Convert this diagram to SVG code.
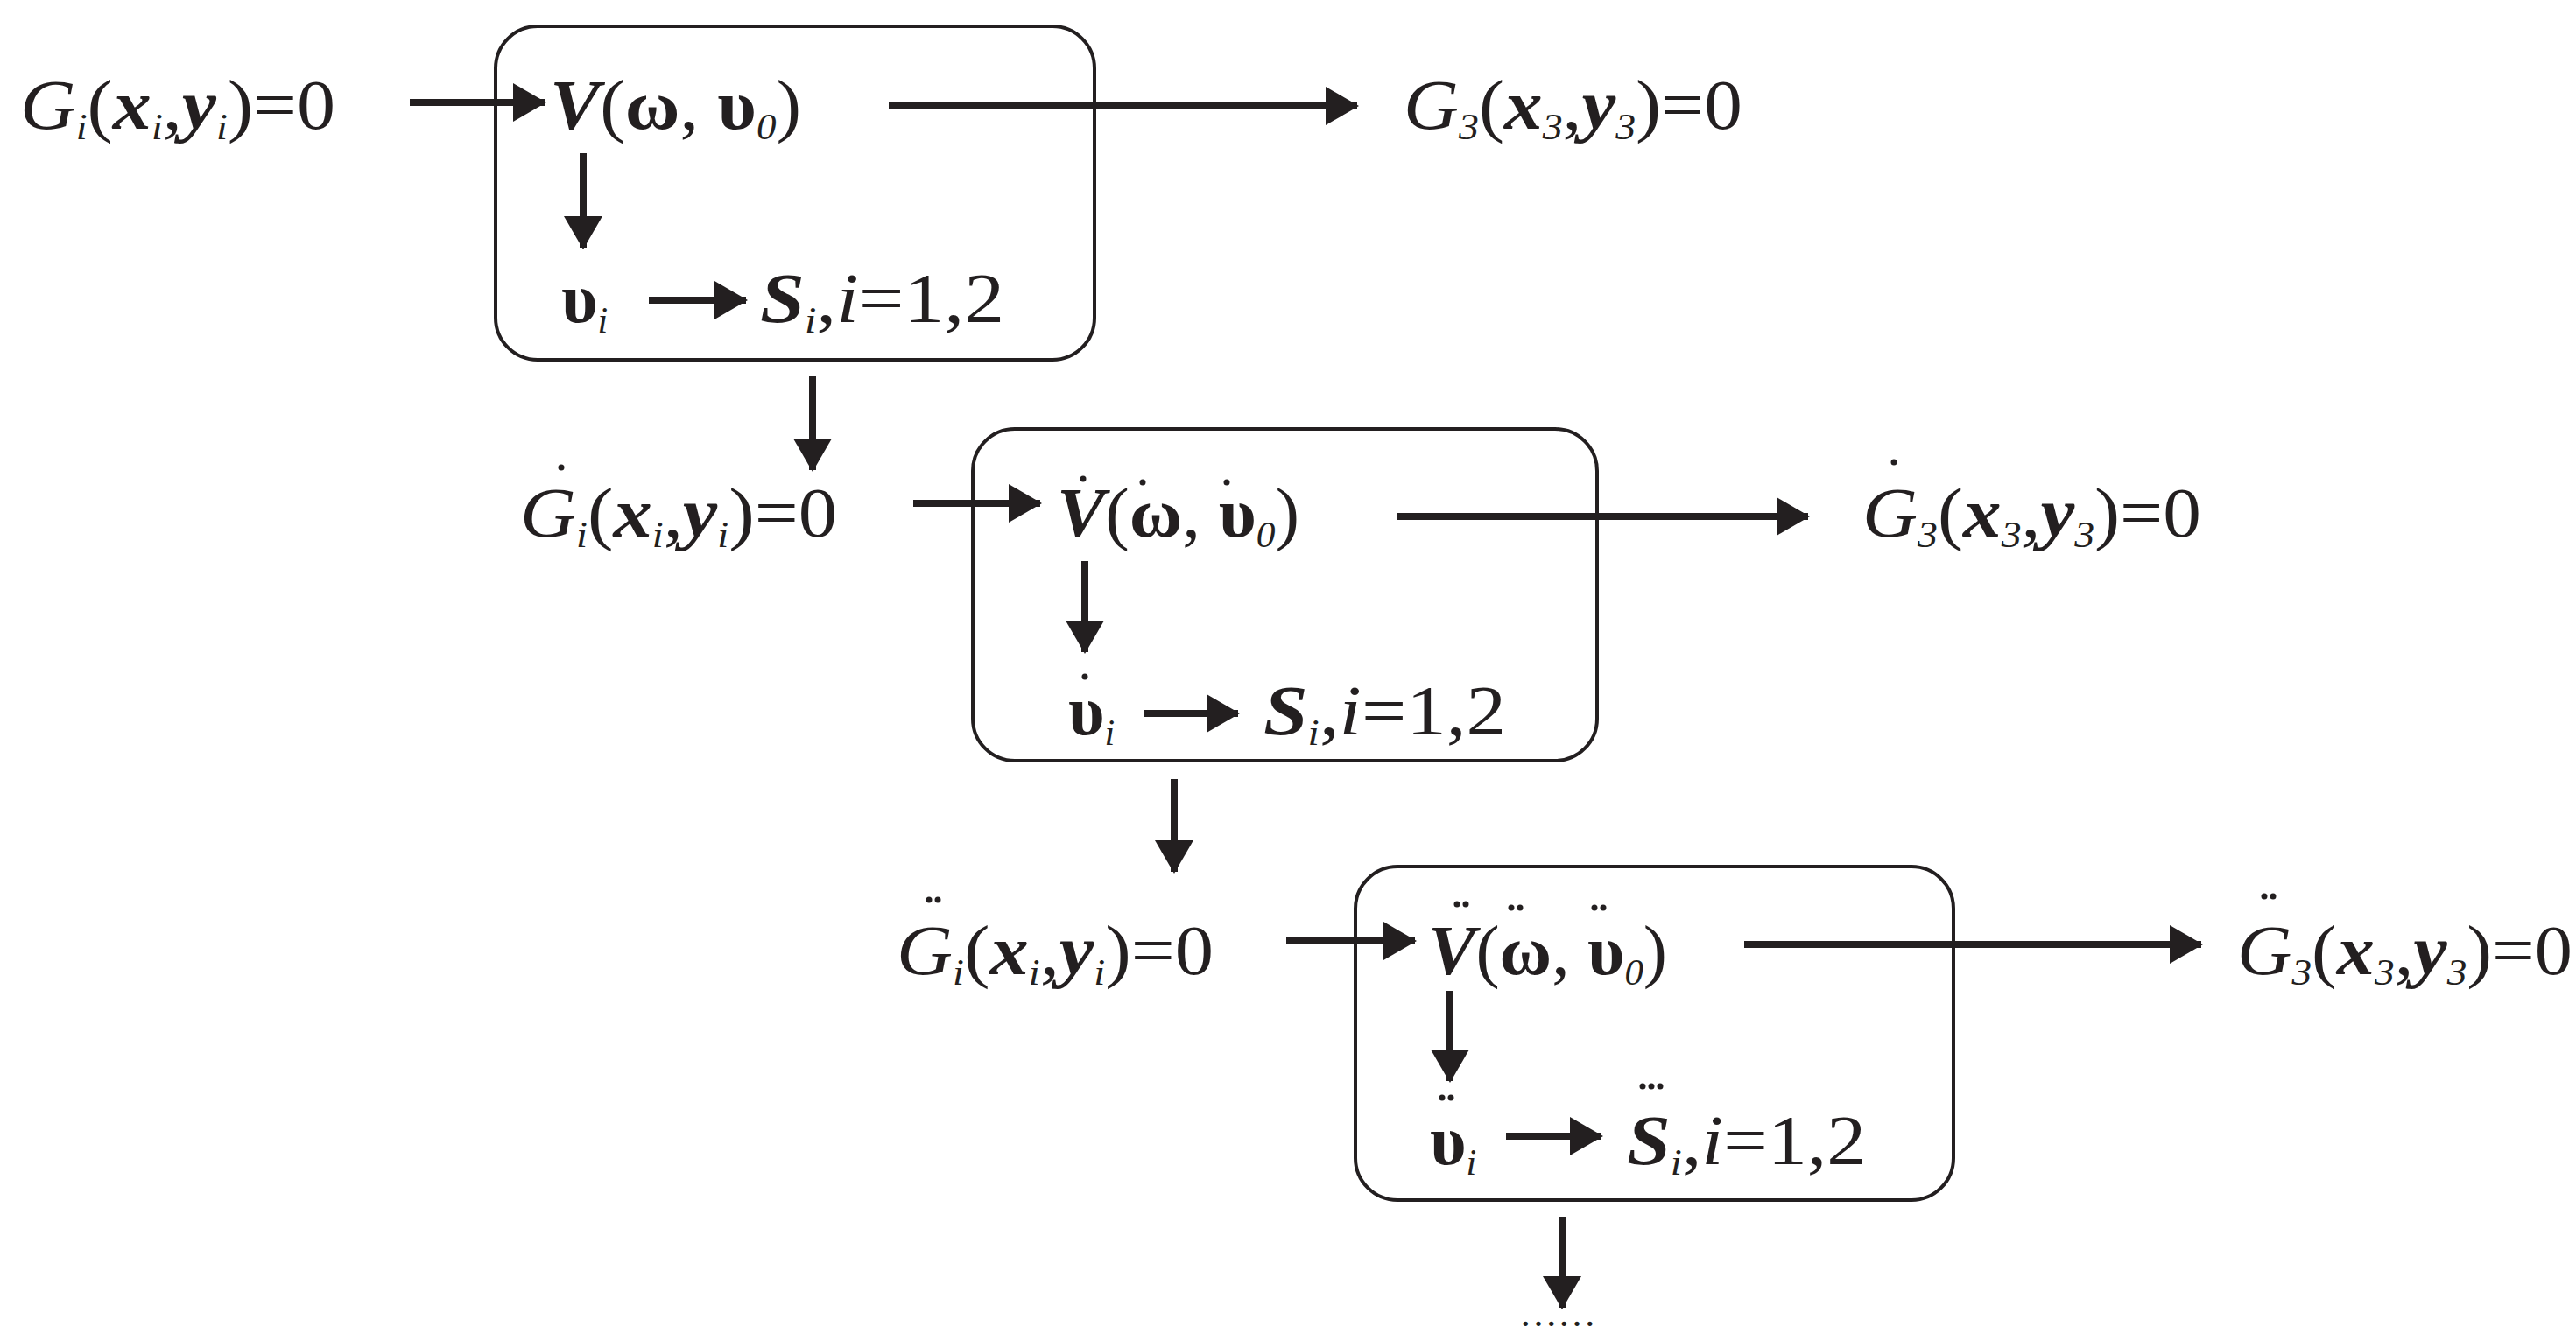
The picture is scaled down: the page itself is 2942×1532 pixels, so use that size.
<svg xmlns="http://www.w3.org/2000/svg" width="2942" height="1532" viewBox="0 0 2942 1532">
<style>
text{font-family:"Liberation Serif","Times New Roman",serif;font-size:80px;fill:#231f20}
.it{font-style:italic}
.bi{font-style:italic;font-weight:bold}
.b{font-weight:bold}
.sub{font-size:42px;font-style:italic}
.box{fill:none;stroke:#231f20;stroke-width:4}
.ar{stroke:#231f20;stroke-width:8;fill:none;marker-end:url(#ah)}
.dot{fill:#231f20}
</style>
<defs>
<marker id="ah" markerUnits="userSpaceOnUse" markerWidth="40" markerHeight="44" refX="36" refY="22" orient="auto"><path d="M0,0L38,22L0,44Z" fill="#231f20"/></marker>
</defs>
<rect width="2942" height="1532" fill="#fff"/>
<g id="box1"><rect class="box" x="566" y="30" width="684" height="381" rx="48"/>
<text x="628" y="147" textLength="287" lengthAdjust="spacingAndGlyphs"><tspan class="bi">V</tspan>(<tspan class="b">ω</tspan>, <tspan class="b">υ</tspan><tspan class="sub" dy="12">0</tspan><tspan dy="-12">)</tspan></text>
<text x="641" y="368"><tspan class="b">υ</tspan><tspan class="sub" dy="12">i</tspan></text>
<text x="868" y="368" textLength="279" lengthAdjust="spacingAndGlyphs"><tspan class="bi">S</tspan><tspan class="sub" dy="12">i</tspan><tspan dy="-12">,</tspan><tspan class="it">i</tspan>=1,2</text></g>
<g id="box2"><rect class="box" x="1111" y="490" width="713" height="379" rx="48"/>
<text x="1207" y="613" textLength="277" lengthAdjust="spacingAndGlyphs"><tspan class="bi">V</tspan>(<tspan class="b">ω</tspan>, <tspan class="b">υ</tspan><tspan class="sub" dy="12">0</tspan><tspan dy="-12">)</tspan></text>
<text x="1220" y="839"><tspan class="b">υ</tspan><tspan class="sub" dy="12">i</tspan></text>
<text x="1443" y="839" textLength="277" lengthAdjust="spacingAndGlyphs"><tspan class="bi">S</tspan><tspan class="sub" dy="12">i</tspan><tspan dy="-12">,</tspan><tspan class="it">i</tspan>=1,2</text></g>
<g id="box3"><rect class="box" x="1548" y="990" width="683" height="381" rx="48"/>
<text x="1631" y="1113" textLength="273" lengthAdjust="spacingAndGlyphs"><tspan class="bi">V</tspan>(<tspan class="b">ω</tspan>, <tspan class="b">υ</tspan><tspan class="sub" dy="12">0</tspan><tspan dy="-12">)</tspan></text>
<text x="1633" y="1330"><tspan class="b">υ</tspan><tspan class="sub" dy="12">i</tspan></text>
<text x="1858" y="1330" textLength="273" lengthAdjust="spacingAndGlyphs"><tspan class="bi">S</tspan><tspan class="sub" dy="12">i</tspan><tspan dy="-12">,</tspan><tspan class="it">i</tspan>=1,2</text></g>
<g id="inputs">
<text x="23" y="147" textLength="360" lengthAdjust="spacingAndGlyphs"><tspan class="it">G</tspan><tspan class="sub" dy="12">i</tspan><tspan dy="-12">(</tspan><tspan class="bi">x</tspan><tspan class="sub" dy="12">i</tspan><tspan dy="-12">,</tspan><tspan class="bi">y</tspan><tspan class="sub" dy="12">i</tspan><tspan dy="-12">)=0</tspan></text>
<text x="594" y="613" textLength="362" lengthAdjust="spacingAndGlyphs"><tspan class="it">G</tspan><tspan class="sub" dy="12">i</tspan><tspan dy="-12">(</tspan><tspan class="bi">x</tspan><tspan class="sub" dy="12">i</tspan><tspan dy="-12">,</tspan><tspan class="bi">y</tspan><tspan class="sub" dy="12">i</tspan><tspan dy="-12">)=0</tspan></text>
<text x="1024" y="1113" textLength="362" lengthAdjust="spacingAndGlyphs"><tspan class="it">G</tspan><tspan class="sub" dy="12">i</tspan><tspan dy="-12">(</tspan><tspan class="bi">x</tspan><tspan class="sub" dy="12">i</tspan><tspan dy="-12">,</tspan><tspan class="bi">y</tspan><tspan class="sub" dy="12">i</tspan><tspan dy="-12">)=0</tspan></text>
</g>
<g id="outputs">
<text x="1603" y="147" textLength="387" lengthAdjust="spacingAndGlyphs"><tspan class="it">G</tspan><tspan class="sub" dy="12">3</tspan><tspan dy="-12">(</tspan><tspan class="bi">x</tspan><tspan class="sub" dy="12">3</tspan><tspan dy="-12">,</tspan><tspan class="bi">y</tspan><tspan class="sub" dy="12">3</tspan><tspan dy="-12">)=0</tspan></text>
<text x="2127" y="613" textLength="387" lengthAdjust="spacingAndGlyphs"><tspan class="it">G</tspan><tspan class="sub" dy="12">3</tspan><tspan dy="-12">(</tspan><tspan class="bi">x</tspan><tspan class="sub" dy="12">3</tspan><tspan dy="-12">,</tspan><tspan class="bi">y</tspan><tspan class="sub" dy="12">3</tspan><tspan dy="-12">)=0</tspan></text>
<text x="2555" y="1113" textLength="383" lengthAdjust="spacingAndGlyphs"><tspan class="it">G</tspan><tspan class="sub" dy="12">3</tspan><tspan dy="-12">(</tspan><tspan class="bi">x</tspan><tspan class="sub" dy="12">3</tspan><tspan dy="-12">,</tspan><tspan class="bi">y</tspan><tspan class="sub" dy="12">3</tspan><tspan dy="-12">)=0</tspan></text>
<text x="1735" y="1515" style="font-size:44px">……</text>
</g>
<g id="accents" class="dot">
<circle cx="641" cy="534" r="3.5"/><circle cx="1237" cy="547" r="3.5"/><circle cx="1305" cy="551" r="3.5"/><circle cx="1401" cy="551" r="3.5"/><circle cx="2163" cy="528" r="3.5"/><circle cx="1239" cy="773" r="3.5"/>
<circle cx="1061" cy="1028" r="3.5"/><circle cx="1071" cy="1028" r="3.5"/>
<circle cx="1664" cy="1033" r="3.5"/><circle cx="1674" cy="1033" r="3.5"/>
<circle cx="1726" cy="1037" r="3.5"/><circle cx="1736" cy="1037" r="3.5"/>
<circle cx="1821" cy="1037" r="3.5"/><circle cx="1831" cy="1037" r="3.5"/>
<circle cx="2586" cy="1024" r="3.5"/><circle cx="2596" cy="1024" r="3.5"/>
<circle cx="1647" cy="1254" r="3.5"/><circle cx="1657" cy="1254" r="3.5"/>
<circle cx="1876" cy="1241" r="3.5"/><circle cx="1886" cy="1241" r="3.5"/><circle cx="1896" cy="1241" r="3.5"/>
</g>
<g id="connectors">
<line class="ar" x1="468" y1="117" x2="622" y2="117"/>
<line class="ar" x1="1015" y1="121" x2="1550" y2="121"/>
<line class="ar" x1="666" y1="175" x2="666" y2="283"/>
<line class="ar" x1="741" y1="343" x2="852" y2="343"/>
<line class="ar" x1="928" y1="430" x2="928" y2="537"/>
<line class="ar" x1="1043" y1="575" x2="1188" y2="575"/>
<line class="ar" x1="1596" y1="590" x2="2065" y2="590"/>
<line class="ar" x1="1239" y1="641" x2="1239" y2="745"/>
<line class="ar" x1="1307" y1="815" x2="1414" y2="815"/>
<line class="ar" x1="1341" y1="890" x2="1341" y2="996"/>
<line class="ar" x1="1469" y1="1075" x2="1616" y2="1075"/>
<line class="ar" x1="1992" y1="1079" x2="2514" y2="1079"/>
<line class="ar" x1="1656" y1="1132" x2="1656" y2="1235"/>
<line class="ar" x1="1720" y1="1298" x2="1829" y2="1298"/>
<line class="ar" x1="1784" y1="1390" x2="1784" y2="1494"/>
</g>
</svg>
